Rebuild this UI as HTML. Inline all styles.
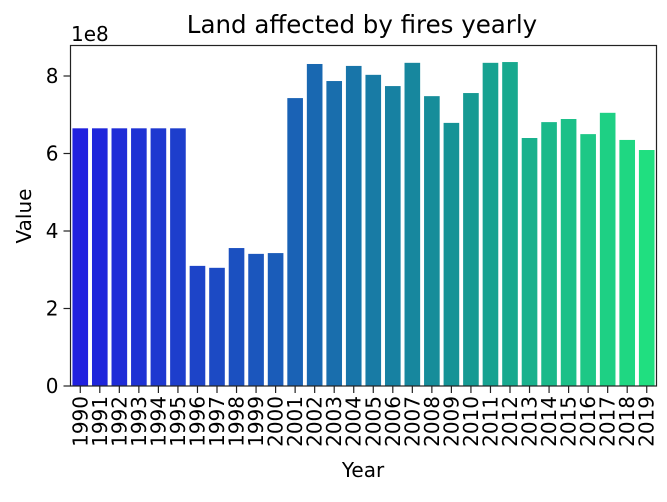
<!DOCTYPE html>
<html><head><meta charset="utf-8"><style>
body{margin:0;background:#fff;}
svg text{font-family:"DejaVu Sans","Liberation Sans",sans-serif;fill:#000;}
</style></head><body>
<svg id="chart" width="667" height="497" viewBox="0 0 667 497" xmlns="http://www.w3.org/2000/svg">
<text x="362" y="33" font-size="24.5" text-anchor="middle">Land affected by fires yearly</text>
<text x="71" y="41" font-size="20">1e8</text>
<text x="363" y="477" font-size="20" text-anchor="middle">Year</text>
<text transform="translate(31,216) rotate(-90)" font-size="20" text-anchor="middle">Value</text>
<g id="bars"></g><g id="yticks"></g><g id="xticks"></g>
<rect x="70.5" y="45.5" width="586" height="340.5" fill="none" stroke="#222" stroke-width="1.2"/>
</svg>
<script>
const years=["1990","1991","1992","1993","1994","1995","1996","1997","1998","1999","2000","2001","2002","2003","2004","2005","2006","2007","2008","2009","2010","2011","2012","2013","2014","2015","2016","2017","2018","2019"];
const values=[6.65,6.65,6.65,6.65,6.65,6.65,3.10,3.05,3.56,3.41,3.43,7.43,8.31,7.87,8.26,8.03,7.74,8.34,7.48,6.79,7.56,8.34,8.36,6.40,6.81,6.89,6.50,7.05,6.35,6.09];
const yTicks=[0,2,4,6,8];
const ns="http://www.w3.org/2000/svg";
const L=70.5,R=656.5,B=386,yPer=38.75;
const y=v=>B-v*yPer;
const step=(R-L)/years.length;
const x=i=>L+i*step;
function color(t){
  // winter colormap, desaturated (HLS saturation * 0.75)
  const c=[0,t,1-0.5*t];
  const mx=Math.max(...c),mn=Math.min(...c),l=(mx+mn)/2;
  return c.map(v=>Math.round(255*(l+(v-l)*0.75)));
}
const bars=document.getElementById('bars'),yt=document.getElementById('yticks'),xt=document.getElementById('xticks');
years.forEach((yr,i)=>{
  const [r,g,b]=color(i/(years.length-1));
  const rc=document.createElementNS(ns,'rect');
  
  
  rc.setAttribute('x',x(i)+step*0.1);rc.setAttribute('width',step*0.8);
  rc.setAttribute('y',y(values[i]));rc.setAttribute('height',B-y(values[i]));
  rc.setAttribute('fill',`rgb(${r},${g},${b})`);
  bars.appendChild(rc);
  const cx=x(i)+step/2;
  const tk=document.createElementNS(ns,'line');
  
  
  tk.setAttribute('x1',cx);tk.setAttribute('x2',cx);tk.setAttribute('y1',B);tk.setAttribute('y2',B+7);tk.setAttribute('stroke','#222');tk.setAttribute('stroke-width','1.2');
  xt.appendChild(tk);
  const tx=document.createElementNS(ns,'text');
  
  
  tx.setAttribute('font-size','20');tx.setAttribute('text-anchor','end');
  tx.setAttribute('transform',`translate(${cx+7},${B+10}) rotate(-90)`);
  tx.textContent=yr;xt.appendChild(tx);
});
yTicks.forEach(v=>{
  const tk=document.createElementNS(ns,'line');
  
  
  tk.setAttribute('x1',L-7);tk.setAttribute('x2',L);tk.setAttribute('y1',y(v));tk.setAttribute('y2',y(v));tk.setAttribute('stroke','#222');tk.setAttribute('stroke-width','1.2');
  yt.appendChild(tk);
  const tx=document.createElementNS(ns,'text');
  
  
  tx.setAttribute('font-size','20');tx.setAttribute('text-anchor','end');
  tx.setAttribute('x',L-12);tx.setAttribute('y',y(v)+7);
  tx.textContent=v;yt.appendChild(tx);
});
</script>
</body></html>
